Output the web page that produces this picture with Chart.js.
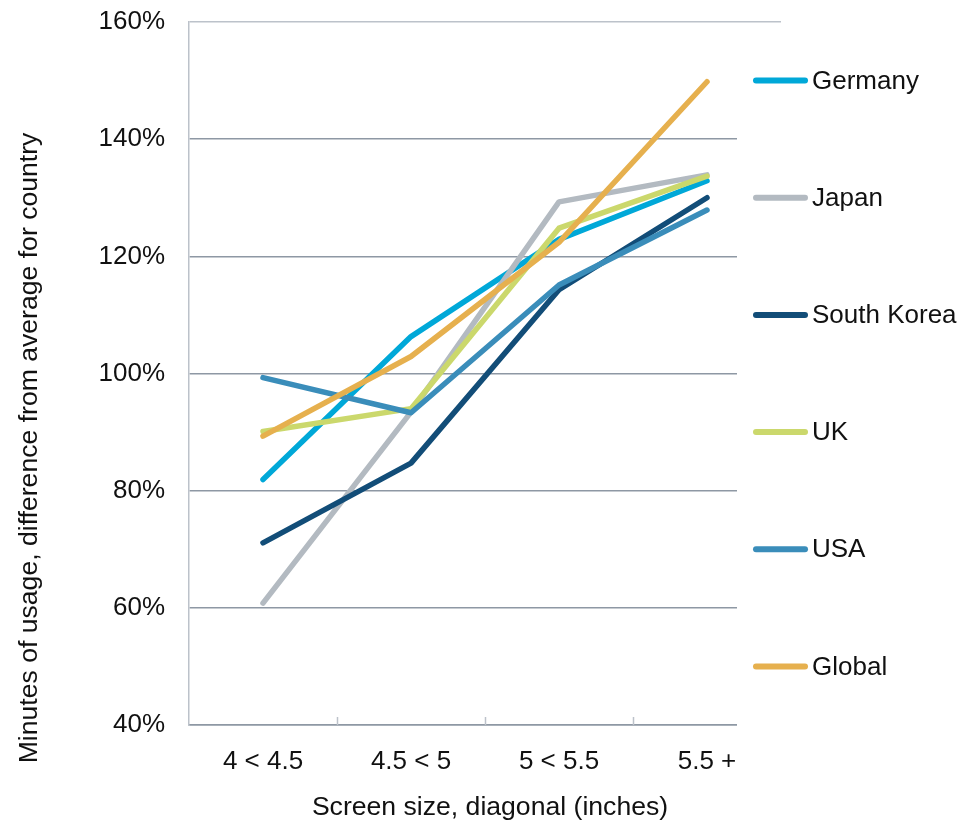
<!DOCTYPE html>
<html>
<head>
<meta charset="utf-8">
<script src="https://cdn.jsdelivr.net/npm/chart.js@4.4.1/dist/chart.umd.min.js"></script>
<style>
  html, body { margin: 0; padding: 0; background: #fff; }
  #wrap { width: 961px; height: 826px; }
</style>
</head>
<body>
<div id="wrap"><canvas id="c" width="961" height="826"></canvas></div>
<script>
// Screen-size bands on the x axis
const sizeBands = ['4 < 4.5', '4.5 < 5', '5 < 5.5', '5.5 +'];

// Minutes of usage relative to the country average (%)
const germany    = [81.9, 106.3, 122.9, 132.9];
const japan      = [60.8,  93.4, 129.3, 133.9];
const southKorea = [71.1,  84.7, 114.3, 130.0];
const uk         = [90.1,  94.0, 124.8, 133.7];
const usa        = [99.3,  93.3, 115.1, 127.9];
const global     = [89.3, 102.9, 122.4, 149.8];

const seriesNames  = ['Germany', 'Japan', 'South Korea', 'UK', 'USA', 'Global'];
const seriesData   = [germany, japan, southKorea, uk, usa, global];
const seriesColors = ['#00A8D8', '#B3BAC1', '#124D78', '#CBD86C', '#3A8DBA', '#E6B04E'];

// Value axis ticks and the levels the legend entries line up with
const yTicks = [40, 60, 80, 100, 120, 140, 160];
const legendLevels = [150, 130, 110, 90, 70, 50];

const FONT = '"Liberation Sans", Arial, Helvetica, sans-serif';
const TEXT = '#111111';
const GRID_DARK = '#8E98A4';
const GRID_LIGHT = '#BCC2CA';

// Side legend, inward category ticks and axis titles
const sidePanel = {
  id: 'sidePanel',
  beforeDatasetsDraw(chart) {
    const { ctx, chartArea: a, scales: { x } } = chart;
    ctx.save();
    ctx.strokeStyle = GRID_LIGHT;
    ctx.lineWidth = 1.5;
    for (let i = 1; i < sizeBands.length; i++) {
      const px = Math.round((x.getPixelForValue(i - 1) + x.getPixelForValue(i)) / 2) + 0.5;
      ctx.beginPath();
      ctx.moveTo(px, a.bottom);
      ctx.lineTo(px, a.bottom - 8);
      ctx.stroke();
    }
    // legend panel background sits over the right end of the grid
    ctx.fillStyle = '#ffffff';
    ctx.fillRect(737, a.top + 6, chart.width - 737, a.bottom - a.top + 10);
    ctx.restore();
  },
  afterDraw(chart) {
    const { ctx, scales: { y } } = chart;
    ctx.save();
    ctx.font = '26px ' + FONT;
    ctx.textBaseline = 'middle';

    // legend
    seriesNames.forEach((name, i) => {
      const yy = y.getPixelForValue(legendLevels[i]);
      ctx.strokeStyle = seriesColors[i];
      ctx.lineWidth = 6;
      ctx.lineCap = 'round';
      ctx.beginPath();
      ctx.moveTo(756, yy);
      ctx.lineTo(805, yy);
      ctx.stroke();
      ctx.fillStyle = TEXT;
      ctx.textAlign = 'left';
      ctx.fillText(name, 812, yy + 1);
    });

    // axis titles
    ctx.font = '26.6px ' + FONT;
    ctx.fillStyle = TEXT;
    ctx.textAlign = 'center';
    ctx.fillText('Screen size, diagonal (inches)', 490, 808);
    ctx.translate(30, 448);
    ctx.rotate(-Math.PI / 2);
    ctx.fillText('Minutes of usage, difference from average for country', 0, 0);
    ctx.restore();
  }
};

new Chart(document.getElementById('c'), {
  type: 'line',
  data: {
    labels: sizeBands,
    datasets: seriesNames.map((name, i) => ({
      label: name,
      data: seriesData[i],
      borderColor: seriesColors[i],
      backgroundColor: seriesColors[i],
      borderWidth: 5.5,
      borderCapStyle: 'round',
      borderJoinStyle: 'round',
      pointRadius: 0,
      tension: 0,
      fill: false,
      order: seriesNames.length - 1 - i
    }))
  },
  options: {
    responsive: false,
    animation: false,
    devicePixelRatio: 1,
    layout: { padding: { left: 0, top: 22, right: 180, bottom: 0 } },
    plugins: {
      legend: { display: false },
      tooltip: { enabled: false }
    },
    scales: {
      x: {
        offset: true,
        grid: { display: false },
        border: { display: true, color: GRID_DARK, width: 1.5 },
        ticks: { font: { family: FONT, size: 26 }, color: TEXT, padding: 13, maxRotation: 0 },
        afterFit(s) { s.height = 101; }
      },
      y: {
        min: 40,
        max: 160,
        afterBuildTicks(s) { s.ticks = yTicks.map(v => ({ value: v })); },
        ticks: {
          font: { family: FONT, size: 26 },
          color: TEXT,
          padding: 24,
          callback: v => v + '%'
        },
        grid: {
          drawTicks: false,
          lineWidth: 1.5,
          color: c => (c.tick && c.tick.value === 160) ? GRID_LIGHT : GRID_DARK
        },
        border: { display: true, color: GRID_LIGHT, width: 1.5 },
        afterFit(s) {
          s.width = 189;
          s.paddingTop = 0;
          s.paddingBottom = 0;
        }
      }
    }
  },
  plugins: [sidePanel]
});
</script>
</body>
</html>
